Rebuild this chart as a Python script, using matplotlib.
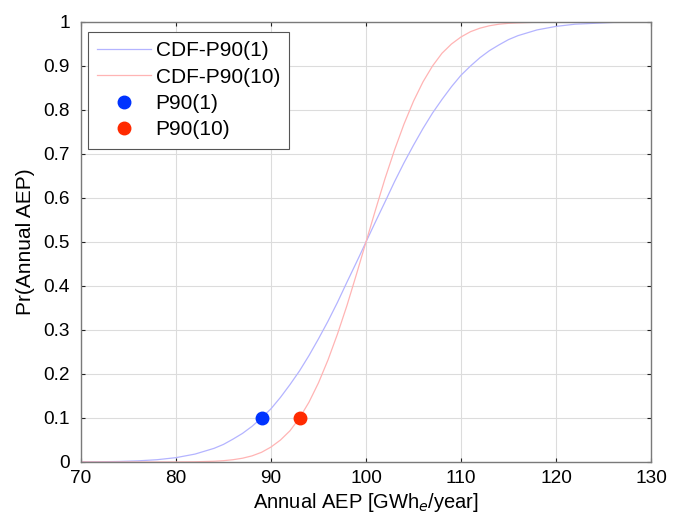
import matplotlib
matplotlib.use("Agg")
import matplotlib.pyplot as plt

plt.rcParams['font.family'] = ['Liberation Sans', 'DejaVu Sans']

# AEP axis values [GWh/year]
aep = [70, 72, 74, 76, 78, 80, 82, 84,
       85, 86, 87, 88, 89, 90, 91, 92, 93, 94, 95, 96, 97, 98, 99, 100,
       101, 102, 103, 104, 105, 106, 107, 108, 109, 110, 111, 112, 113, 114, 115, 116,
       118, 120, 122, 124, 126, 128, 130]
# CDF values
cdf_p90_1 = [0.0002, 0.0006, 0.0012, 0.0026, 0.0052, 0.0099, 0.018, 0.031,
             0.040, 0.052, 0.065, 0.081, 0.100, 0.121, 0.147, 0.176, 0.207, 0.242,
             0.280, 0.320, 0.363, 0.409, 0.454, 0.500,
             0.546, 0.591, 0.637, 0.680, 0.720, 0.758, 0.793, 0.824, 0.853, 0.879,
             0.900, 0.919, 0.935, 0.948, 0.960, 0.969,
             0.982, 0.990, 0.995, 0.997, 0.999, 0.9994, 0.9998]
cdf_p90_10 = [0.0, 0.0, 0.0, 0.0, 0.00003, 0.0001, 0.0005, 0.0017,
              0.003, 0.0052, 0.0086, 0.0139, 0.022, 0.034, 0.050, 0.071, 0.100, 0.136,
              0.180, 0.232, 0.291, 0.356, 0.427, 0.500,
              0.573, 0.644, 0.709, 0.768, 0.820, 0.864, 0.900, 0.929, 0.950, 0.966,
              0.978, 0.986, 0.9915, 0.995, 0.997, 0.998,
              0.9995, 0.9999, 1.0, 1.0, 1.0, 1.0, 1.0]
p90_1 = (89.0, 0.1)
p90_10 = (93.0, 0.1)

labels = ["CDF-P90(1)", "CDF-P90(10)", "P90(1)", "P90(10)"]
xticks = [70, 80, 90, 100, 110, 120, 130]
yticks = [0, 0.1, 0.2, 0.3, 0.4, 0.5, 0.6, 0.7, 0.8, 0.9, 1]
ytick_labels = ["0", "0.1", "0.2", "0.3", "0.4", "0.5", "0.6", "0.7", "0.8", "0.9", "1"]

fig = plt.figure(figsize=(6.81, 5.15), dpi=100)
ax = fig.add_axes([81/681, 53/515, 570/681, 440/515])

ax.plot(aep, cdf_p90_1, color="#b4b4ff", lw=0.9, label=labels[0])
ax.plot(aep, cdf_p90_10, color="#ffb4b4", lw=0.9, label=labels[1])
ax.plot([p90_1[0]], [p90_1[1]], 'o', color="#0033ff", ms=9, label=labels[2], zorder=5)
ax.plot([p90_10[0]], [p90_10[1]], 'o', color="#ff2a00", ms=9, label=labels[3], zorder=5)

ax.set_xlim(70, 130)
ax.set_ylim(0, 1)
ax.set_xticks(xticks)
ax.set_yticks(yticks)
ax.set_yticklabels(ytick_labels)
ax.grid(True, color="#dcdcdc", lw=0.8)
ax.set_axisbelow(True)
ax.tick_params(direction='in', length=3, top=True, right=True, labelsize=13.7, color='#222222')
ax.tick_params(axis='y', pad=8)
ax.tick_params(axis='x', pad=5.5)
for s in ax.spines.values():
    s.set_color('#7a7a7a')
    s.set_linewidth(1.0)

ax.set_xlabel("Annual AEP [GWh$_e$/year]", fontsize=14.5, labelpad=3)
ax.set_ylabel("Pr(Annual AEP)", fontsize=15, labelpad=6)

leg = ax.legend(loc='upper left', bbox_to_anchor=(7/570, 1 - 10/440), fontsize=15,
                fancybox=False, frameon=True, edgecolor='#555555', framealpha=1,
                handlelength=2.55, handletextpad=0.25, borderaxespad=0.0, borderpad=0.45,
                labelspacing=0.35, numpoints=1)
leg.get_frame().set_linewidth(0.8)

fig.savefig("out.png", dpi=100)
